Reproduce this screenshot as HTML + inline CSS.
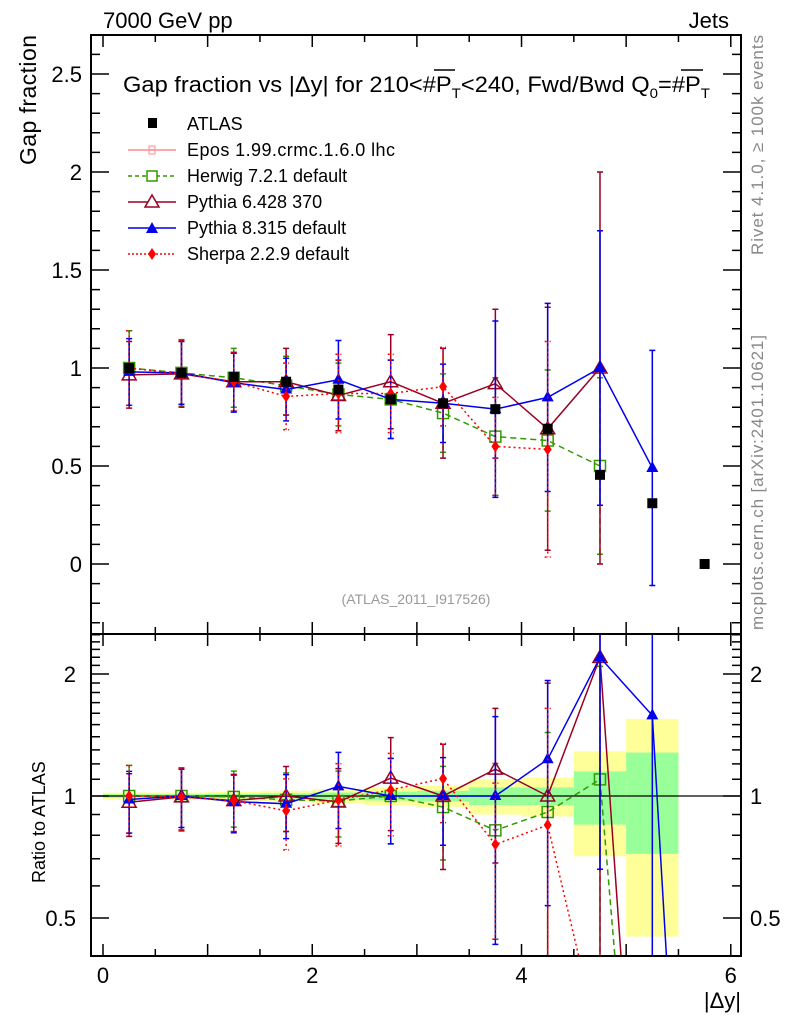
<!DOCTYPE html>
<html><head><meta charset="utf-8"><style>
html,body{margin:0;background:#fff;width:786px;height:1024px;overflow:hidden;position:relative}
svg{display:block;font-family:"Liberation Sans",sans-serif;position:absolute;left:0;top:0}
</style></head><body>
<svg id="c" width="786" height="1024" viewBox="0 0 786 1024" xmlns="http://www.w3.org/2000/svg"></svg>
<script>
const xs=[0.25,0.75,1.25,1.75,2.25,2.75,3.25,3.75,4.25,4.75,5.25,5.75];
const atlas=[1.0,0.975,0.955,0.93,0.89,0.84,0.82,0.79,0.69,0.455,0.31,0.0];
const atlasStatRel=[0.01,0.01,0.012,0.015,0.02,0.025,0.03,0.05,0.05,0.15,0.28,0];
const atlasTotRel=[0.02,0.02,0.025,0.03,0.04,0.05,0.06,0.1,0.11,0.29,0.55,0];
const herwig=[1.0,0.975,0.95,0.91,0.865,0.84,0.77,0.65,0.63,0.50,0.01,null];
const herwigErr=[0.19,0.17,0.15,0.15,0.16,0.2,0.2,0.3,0.36,0.45,0,0];
const pythia6=[0.965,0.97,0.93,0.93,0.86,0.93,0.82,0.92,0.69,1.0,0.01,null];
const pythia6Err=[0.17,0.17,0.15,0.17,0.18,0.24,0.28,0.38,0.62,1.0,0,0];
const pythia8=[0.98,0.975,0.925,0.89,0.94,0.84,0.82,0.79,0.85,1.0,0.49,0.01];
const pythia8Err=[0.17,0.16,0.15,0.16,0.2,0.2,0.2,0.45,0.48,0.7,0.6,0];
const sherpa=[1.0,0.97,0.93,0.855,0.87,0.87,0.905,0.60,0.585,0.11,null,null];
const sherpaErr=[0.19,0.17,0.15,0.17,0.2,0.2,0.2,0.25,0.55,0,0,0];
const yTicks=[0,0.5,1,1.5,2,2.5];
const xTicks=[0,2,4,6];
const rTicks=[0.5,1,2];

const S=document.getElementById('c');const NS='http://www.w3.org/2000/svg';
function mk(t,a,p){const e=document.createElementNS(NS,t);for(const k in a)e.setAttribute(k,a[k]);(p||S).appendChild(e);return e;}
const L=91,R=741,T=35,M=634,B=956;
const X=v=>103+v*104.63;
const Y=v=>564-v*196;
const RY=r=>796-Math.log2(Math.max(r,1e-3))*122;

const defs=mk('defs',{});
const c1=mk('clipPath',{id:'ct'},defs);mk('rect',{x:L,y:T,width:R-L,height:M-T},c1);
const c2=mk('clipPath',{id:'cb'},defs);mk('rect',{x:L,y:M,width:R-L,height:B-M},c2);
const gT=mk('g',{'clip-path':'url(#ct)'});


const gB=mk('g',{'clip-path':'url(#cb)'});



for(let i=0;i<xs.length;i++){
  if(atlas[i]<=0)continue;
  const x0=X(xs[i]-0.25),w=X(xs[i]+0.25)-x0;
  const yb=mk('rect',{x:x0,y:RY(1+atlasTotRel[i]),width:w,height:RY(1-atlasTotRel[i])-RY(1+atlasTotRel[i]),fill:'#ffff99'},gB);
  
  
  const gb=mk('rect',{x:x0,y:RY(1+atlasStatRel[i]),width:w,height:RY(1-atlasStatRel[i])-RY(1+atlasStatRel[i]),fill:'#99ff99'},gB);
  
  
}
const one=mk('line',{x1:L,x2:R,y1:RY(1),y2:RY(1),stroke:'#000','stroke-width':1.2},gB);



function marker(g,type,x,y,col){
  let e;
  if(type==='sq')e=mk('rect',{x:x-5.5,y:y-5.5,width:11,height:11,fill:'none',stroke:col,'stroke-width':1.5},g);
  else if(type==='tri')e=mk('path',{d:`M${x} ${y-7}L${x+7} ${y+5}L${x-7} ${y+5}Z`,fill:'none',stroke:col,'stroke-width':1.5},g);
  else if(type==='ftri')e=mk('path',{d:`M${x} ${y-7}L${x+6} ${y+4}L${x-6} ${y+4}Z`,fill:col},g);
  else if(type==='dia')e=mk('path',{d:`M${x} ${y-6}L${x+4} ${y}L${x} ${y+6}L${x-4} ${y}Z`,fill:col},g);
  else e=mk('rect',{x:x-5,y:y-5,width:10,height:10,fill:col},g);
  return e;
}
const series=[
 {name:'herwig',vals:herwig,err:herwigErr,col:'#339900',dash:'6,4',m:'sq'},
 {name:'pythia6',vals:pythia6,err:pythia6Err,col:'#990022',dash:'',m:'tri'},
 {name:'pythia8',vals:pythia8,err:pythia8Err,col:'#0000ee',dash:'',m:'ftri'},
 {name:'sherpa',vals:sherpa,err:sherpaErr,col:'#ff0000',dash:'2,3',m:'dia'}];
for(const s of series){
  let pts=[],rpts=[];
  for(let i=0;i<xs.length;i++){
    const v=s.vals[i];if(v==null)continue;
    const r=atlas[i]>0?v/atlas[i]:0.01;
    rpts.push(X(xs[i])+','+RY(r));
    if(s.err[i]>0)pts.push(X(xs[i])+','+Y(v));
  }
  const pl=mk('polyline',{points:pts.join(' '),fill:'none',stroke:s.col,'stroke-width':1.5,'stroke-dasharray':s.dash},gT);
  
  
  const rl=mk('polyline',{points:rpts.join(' '),fill:'none',stroke:s.col,'stroke-width':1.5,'stroke-dasharray':s.dash},gB);
  
  
  for(let i=0;i<xs.length;i++){
    const v=s.vals[i];if(v==null||!(s.err[i]>0))continue;
    const x=X(xs[i]),e=s.err[i];
    const eb=mk('path',{d:`M${x} ${Y(v+e)}V${Y(Math.max(v-e,-0.3))}M${x-3} ${Y(v+e)}H${x+3}M${x-3} ${Y(v-e)}H${x+3}`,stroke:s.col,'stroke-width':1.5,fill:'none','stroke-dasharray':s.dash},gT);
    
    
    const mm=marker(gT,s.m,x,Y(v),s.col);
    
    
    if(atlas[i]>0){
      const r=v/atlas[i],re=e/atlas[i];
      const rb=mk('path',{d:`M${x} ${RY(r+re)}V${RY(r-re)}M${x-3} ${RY(r+re)}H${x+3}M${x-3} ${RY(r-re)}H${x+3}`,stroke:s.col,'stroke-width':1.5,fill:'none','stroke-dasharray':s.dash},gB);
      
      
      const rm=marker(gB,s.m,x,RY(r),s.col);
      
      
    }
  }
}
for(let i=0;i<xs.length;i++){
  const am=marker(gT,'fsq',X(xs[i]),Y(atlas[i]),'#000');
  
  
}

for(const [y0,y1,nm] of [[T,M,'main-frame'],[M,B,'ratio-frame']]){
  const f=mk('rect',{x:L,y:y0,width:R-L,height:y1-y0,fill:'none',stroke:'#000','stroke-width':2});
  
  
}
let d='';
for(let v=0;v<=6.01;v+=0.5){const x=X(v),len=Math.abs(v-Math.round(v))<0.01?12:7;
  d+=`M${x} ${M}v${-len}M${x} ${T}v${len}M${x} ${B}v${-len}M${x} ${M}v${len}`;}
for(let v=-0.3;v<=2.71;v+=0.1){const y=Y(v);const maj=Math.abs(v*2-Math.round(v*2))<0.01;const len=maj?18:9;
  if(y<T||y>M)continue;d+=`M${L} ${y}h${len}M${R} ${y}h${-len}`;}
const rminor=[0.4,0.5,0.6,0.7,0.8,0.9,1,1.1,1.2,1.3,1.4,1.5,1.6,1.7,1.8,1.9,2,2.1,2.2,2.3,2.4,2.5];
for(const r of rminor){const y=RY(r);if(y<M||y>B)continue;const len=rTicks.includes(r)?18:9;d+=`M${L} ${y}h${len}M${R} ${y}h${-len}`;}
const tk=mk('path',{d:d,stroke:'#000','stroke-width':1.5,fill:'none'});



function txt(x,y,s,o){const e=mk('text',Object.assign({x:x,y:y,'font-size':22,fill:'#000'},o||{}));e.textContent=s;return e;}
for(const v of yTicks){const t=txt(82,Y(v)+8,String(v),{'text-anchor':'end'});
  
  }
for(const v of xTicks){const t=txt(X(v),983,String(v),{'text-anchor':'middle'});
  
  }
for(const r of rTicks){const t=txt(76,RY(r)+8,String(r),{'text-anchor':'end'});
  
  
  const t2=txt(750,RY(r)+8,String(r));
  
  }
</script>
<svg width="786" height="1024" font-family="Liberation Sans, sans-serif">
<text x="103" y="28" font-size="22">7000 GeV pp</text>
<text x="729" y="28" font-size="22" text-anchor="end">Jets</text>
<text transform="translate(36,165) rotate(-90)" font-size="23" textLength="130">Gap fraction</text>
<text transform="translate(45,883) rotate(-90)" font-size="18">Ratio to ATLAS</text>
<text x="741" y="1008" font-size="22" text-anchor="end">|Δy|</text>
<text x="123" y="92" font-size="22" textLength="587" lengthAdjust="spacingAndGlyphs">Gap fraction vs |Δy| for 210&lt;#P<tspan font-size="14" dy="6">T</tspan><tspan dy="-6">&lt;240, Fwd/Bwd Q</tspan><tspan font-size="14" dy="6">0</tspan><tspan dy="-6">=#P</tspan><tspan font-size="14" dy="6">T</tspan></text>
<line x1="434" y1="70" x2="455" y2="70" stroke="#000" stroke-width="1.5"/><line x1="681" y1="70" x2="703" y2="70" stroke="#000" stroke-width="1.5"/>
<text transform="translate(763,255) rotate(-90)" font-size="17" fill="#888" textLength="220">Rivet 4.1.0, ≥ 100k events</text>
<text transform="translate(763,630) rotate(-90)" font-size="17" fill="#888" textLength="295">mcplots.cern.ch [arXiv:2401.10621]</text>
<text x="416" y="604" font-size="14" fill="#999" text-anchor="middle">(ATLAS_2011_I917526)</text>
<g font-size="18">
<rect x="148" y="118" width="9" height="10" fill="#000"/>
<text x="187" y="130">ATLAS</text>
<line x1="128" x2="176" y1="150" y2="150" stroke="#ff8888" stroke-width="1.5"/><rect x="149" y="146" width="6" height="8" fill="none" stroke="#ff8888"/>
<text x="187" y="156" textLength="208">Epos 1.99.crmc.1.6.0 lhc</text>
<line x1="128" x2="176" y1="176" y2="176" stroke="#339900" stroke-width="1.5" stroke-dasharray="4,3"/><rect x="147" y="171" width="10" height="10" fill="#fff" stroke="#339900" stroke-width="1.5"/>
<text x="187" y="182">Herwig 7.2.1 default</text>
<line x1="128" x2="176" y1="202" y2="202" stroke="#990022" stroke-width="1.5"/><path d="M152 195L159 207L145 207Z" fill="#fff" stroke="#990022" stroke-width="1.5"/>
<text x="187" y="208">Pythia 6.428 370</text>
<line x1="128" x2="176" y1="228" y2="228" stroke="#0000ee" stroke-width="1.5"/><path d="M152 222L158 233L146 233Z" fill="#0000ee"/>
<text x="187" y="234">Pythia 8.315 default</text>
<line x1="128" x2="176" y1="254" y2="254" stroke="#ff0000" stroke-width="1.5" stroke-dasharray="2,2"/><path d="M152 248L156 254L152 260L148 254Z" fill="#ff0000"/>
<text x="187" y="260">Sherpa 2.2.9 default</text>
</g>
</svg>
</body></html>
